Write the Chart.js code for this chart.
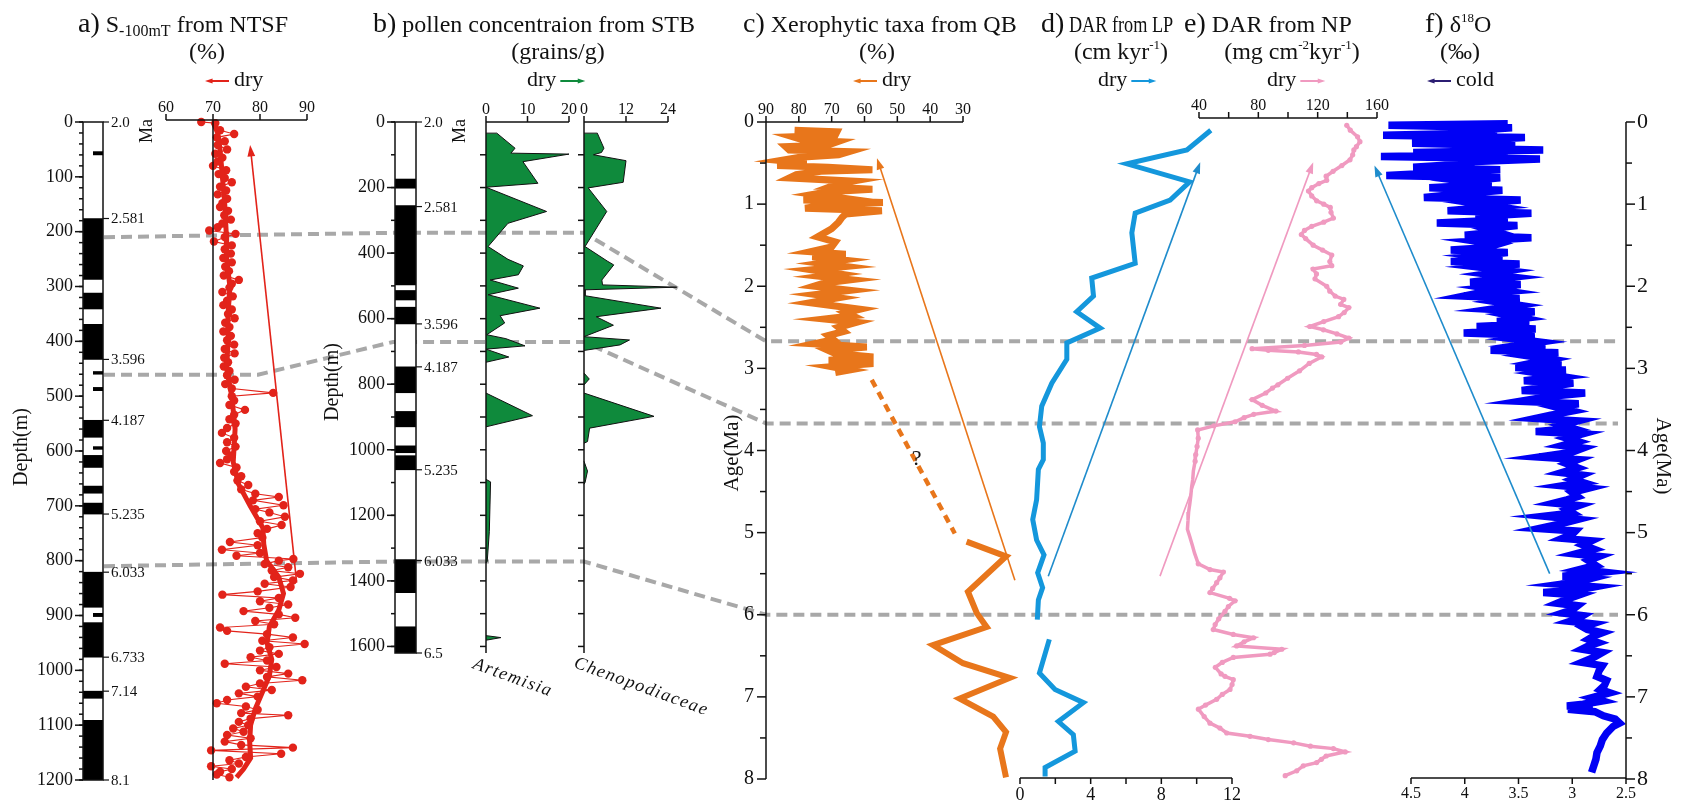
<!DOCTYPE html>
<html>
<head>
<meta charset="utf-8">
<script src="https://cdn.jsdelivr.net/npm/chart.js@4.4.1/dist/chart.umd.min.js"></script>
<style>
  html, body { margin: 0; padding: 0; background: #fff; }
  #wrap { position: relative; width: 1683px; height: 803px; overflow: hidden; }
  #wrap canvas { position: absolute; left: 0; top: 0; }
</style>
</head>
<body>
<div id="wrap"><canvas id="bg" width="1683" height="803"></canvas></div>
<script>
/*
  Data
  ---------- ---------- ---------- ---------- ----------
*/

// a) S-100mT from NTSF, depth (m) vs %
const A_RAW_DEPTH = [
  0, 2, 15, 22, 28, 35, 42, 50, 58, 65,
  72, 80, 88, 95, 102, 110, 118, 125, 132, 140,
  148, 155, 162, 170, 178, 185, 192, 198, 204, 210,
  218, 225, 232, 240, 248, 256, 264, 272, 280, 288,
  295, 302, 310, 318, 326, 334, 342, 350, 358, 366,
  374, 382, 390, 398, 406, 414, 422, 430, 438, 446,
  454, 462, 470, 478, 486, 494, 500, 508, 516, 525,
  534, 542, 550, 558, 567, 576, 584, 592, 600, 608,
  615, 622, 630, 638, 646, 654, 662, 670, 678, 684,
  690, 699, 706, 712, 720, 728, 735, 742, 750, 758,
  766, 772, 780, 786, 791, 797, 800, 806, 812, 818,
  824, 830, 836, 842, 848, 856, 862, 868, 874, 880,
  886, 892, 898, 904, 910, 916, 922, 928, 934, 940,
  946, 952, 958, 964, 970, 976, 982, 988, 994, 1000,
  1006, 1012, 1018, 1024, 1030, 1036, 1042, 1048, 1054, 1060,
  1066, 1072, 1078, 1082, 1088, 1094, 1100, 1106, 1112, 1118,
  1124, 1130, 1136, 1141, 1146, 1152, 1158, 1164, 1170, 1175,
  1180, 1185, 1190, 1195
];
const A_RAW_S = [
  67.5, 70.5, 71.5, 74.5, 70.8, 72.5, 71, 73, 70.5, 72,
  71, 70, 72.8, 71.2, 72.5, 74, 71.5, 72.8, 71, 73,
  72, 71.5, 73.2, 72.4, 73.8, 72, 71, 69.2, 74.8, 72.5,
  70.2, 74, 72.5, 73.8, 72.2, 74, 72.6, 73.4, 72.3, 75.5,
  74, 73.5, 72, 74.2, 73, 72.2, 74, 73.2, 74.6, 72.6,
  73.5, 72.2, 73.8, 73, 74.5, 72.5, 74.6, 72.4, 73.2, 72.3,
  73.5, 73, 74.6, 72.6, 74, 82.8, 74, 74.5, 73.5, 76.8,
  74.5, 73.5, 74.8, 73, 71.9, 74.5, 73, 74.8, 72.8, 74,
  73, 71.5, 75, 74.5, 76, 75.2, 77.5, 76, 79, 84,
  78.5, 85, 79, 82, 85.3, 80, 84.6, 81.5, 79.5, 80.5,
  73.6, 79.5, 71.9, 80, 75, 87.1, 84, 81, 86, 82.5,
  88.5, 83, 87, 81, 86.5, 79.5, 72, 84, 80, 86,
  82, 76.5, 84, 87.5, 79, 83, 71.5, 73, 81.5, 87,
  80.5, 89.5, 82, 80, 84, 78, 81.5, 72.5, 83.5, 80,
  86, 81.5, 89, 80, 77, 82.5, 75.5, 79.5, 73, 70.8,
  77, 79.5, 76, 86, 78, 75.5, 77.5, 74.3, 76.5, 73,
  78, 72.5, 76, 87, 69.6, 84.5, 77, 73.5, 75.5, 69.6,
  74, 71.5, 70.8, 73.5
];
const A_TREND_DEPTH = [0, 20, 50, 100, 150, 200, 250, 300, 350, 400, 450, 500, 560, 620, 660, 700, 740, 770, 800, 830, 860, 890, 920, 950, 980, 1010, 1040, 1070, 1100, 1130, 1160, 1180, 1195];
const A_TREND_S = [70, 71, 71.5, 72, 72.5, 72.8, 72.9, 73.6, 73.2, 73.2, 72.9, 74, 74.7, 74.3, 75.4, 77.9, 80.6, 80.8, 81.4, 84, 85, 84, 82, 81.5, 82.5, 82, 80.5, 79, 78, 77.8, 78, 76.5, 75];
// normal-polarity (black) intervals, depth m; short half-width events separately
const A_NORMAL = [[176, 287], [312, 341], [369, 433], [544, 575], [608, 630], [664, 677], [695, 715], [821, 885], [913, 976], [1038, 1051], [1091, 1200]];
const A_EVENTS = [[54, 60], [455, 460], [484, 490], [592, 597], [896, 902]];
const A_AGE_DEPTH = [0, 176, 433, 544, 715, 821, 976, 1038, 1200];
const A_AGE_LABEL = ['2.0', '2.581', '3.596', '4.187', '5.235', '6.033', '6.733', '7.14', '8.1'];
const A_DEPTH_LABELS = [0, 100, 200, 300, 400, 500, 600, 700, 800, 900, 1000, 1100, 1200];
const A_X_TICKS = [60, 70, 80, 90];

// b) pollen concentration from STB, depth (m) vs grains/g (null = gap)
const B_NORMAL = [[174, 202], [255, 497], [514, 543], [565, 616], [747, 826], [883, 930], [988, 1009], [1018, 1061], [1335, 1436], [1540, 1620]];
const B_AGE_DEPTH = [0, 258, 616, 747, 1061, 1338, 1620];
const B_AGE_LABEL = ['2.0', '2.581', '3.596', '4.187', '5.235', '6.033', '6.5'];
const B_DEPTH_LABELS = [0, 200, 400, 600, 800, 1000, 1200, 1400, 1600];
const ART_DEPTH = [34, 34, 80, 95, 98, 121, 187, 199, 273, 309, 380, 419, 439, 466, 482, 507, 527, 568, 591, 613, 649, 661, 683, 693, 717, 733, null, 827, 896, 930, null, 1090, 1098, 1250, 1340, 1345, null, 1567, 1573, 1581];
const ART_VALUE = [0, 2.6, 7, 6, 20, 8.9, 12.5, 0, 14.6, 5.3, 0.5, 5.3, 9, 7.8, 1, 7.8, 0.5, 13, 3.4, 4.5, 0.2, 4.8, 9.4, 0, 5.5, 0, null, 0, 11.2, 0, null, 0, 1.1, 0.8, 0.3, 0, null, 0, 3.6, 0];
const CHENO_DEPTH = [34, 34, 80, 93, 100, 118, 184, 201, 273, 380, 424, 436, 482, 497, 504, 512, 530, 568, 594, 620, 655, 665, 680, 697, null, 766, 784, 802, null, 827, 898, 934, 975, 980, null, 1035, 1065, 1100, 1105];
const CHENO_VALUE = [0, 3.8, 5.7, 5, 2.7, 12, 11.2, 1.2, 6.5, 0.3, 6.6, 8.5, 5.1, 5.3, 26.5, 0.3, 0.3, 22, 3.5, 8.4, 0, 13, 10.3, 0, null, 0, 1.5, 0, null, 0, 20, 1.6, 1, 0, null, 0, 1, 0.3, 0];
const ART_TICKS = [0, 10, 20];
const CHENO_TICKS = [0, 12, 24];

// c) Xerophytic taxa from QB, age (Ma) vs %
const XERO_AGE = [
  0.10, 0.12, 0.16, 0.18, 0.22, 0.24, 0.28, 0.30, 0.34, 0.36,
  0.40, 0.43, 0.47, 0.50, 0.53, 0.55, 0.58, 0.60, 0.64, 0.68,
  0.72, 0.75, 0.79, 0.82, 0.85, 0.88, 0.92, 0.95, 0.98, 1.02,
  1.05, 1.08, 1.12, 1.16, 1.22, 1.30, 1.40, 1.46, 1.52, 1.58,
  1.61, 1.64, 1.68, 1.72, 1.76, 1.80, 1.85, 1.88, 1.92, 1.96,
  2.00, 2.05, 2.10, 2.14, 2.20, 2.24, 2.28, 2.32, 2.36, 2.40,
  2.44, 2.50, 2.55, 2.60, 2.65, 2.70, 2.74, 2.78, 2.82, 2.86,
  2.90, 2.94, 2.98, 3.02, 3.05
];
const XERO_PCT = [
  81.3, 68.4, 68.9, 81.9, 78.6, 68.2, 71.1, 84.0, 82.9, 64.6,
  67.9, 79.7, 85.6, 77.6, 86.6, 71.1, 57.6, 73.3, 80.8, 82.9,
  63.6, 67.9, 70.6, 57.6, 71.1, 75.4, 67.9, 78.6, 54.4, 73.3,
  78.1, 54.7, 65.7, 66.8, 67.9, 70.0, 74.3, 68.9, 70.0, 76.5,
  65.7, 75.9, 66.5, 73.3, 65.7, 76.1, 67.9, 73.3, 64.1, 72.2,
  75.4, 64.4, 74.9, 67.9, 76.5, 68.9, 61.4, 65.7, 63.6, 72.2,
  62.5, 67.9, 66.3, 71.1, 69.5, 75.4, 59.3, 71.1, 68.9, 57.3,
  70.9, 57.3, 70.0, 64.6, 68.9
];
const XERO_GAP_AGE = [3.14, 5.01];
const XERO_GAP_PCT = [57.8, 32.5];
const XERO_LOW_AGE = [5.11, 5.29, 5.72, 5.98, 6.15, 6.37, 6.59, 6.77, 7.02, 7.24, 7.43, 7.63, 7.98];
const XERO_LOW_PCT = [28.9, 16.9, 28.5, 25.8, 22.8, 39.1, 30.0, 15.8, 31.0, 20.8, 16.9, 18.7, 16.9];
const C_X_TICKS = [90, 80, 70, 60, 50, 40, 30];

// d) DAR from LP, age (Ma) vs cm/kyr (null = gap)
const LP_AGE = [0.1, 0.34, 0.51, 0.73, 0.95, 1.11, 1.35, 1.72, 1.9, 2.12, 2.31, 2.51, 2.69, 2.89, 3.18, 3.46, 3.71, 3.91, 4.11, 4.23, 4.6, 4.84, 5.09, 5.27, 5.49, 5.67, 5.82, 6.06, null, 6.3, 6.71, 6.91, 7.07, 7.3, 7.46, 7.66, 7.86, 7.97];
const LP_DAR = [10.8, 9.45, 6.05, 9.6, 8.5, 6.52, 6.33, 6.52, 4.06, 4.16, 3.21, 4.54, 2.65, 2.65, 1.8, 1.23, 1.1, 1.32, 1.32, 1.04, 0.94, 0.72, 0.94, 1.36, 1.0, 1.28, 1.04, 0.98, null, 1.66, 1.1, 1.98, 3.59, 2.17, 3.02, 3.12, 1.42, 1.42];
const D_X_TICKS = [0, 2, 4, 6, 8, 10, 12];
const D_X_LABELS = [0, 4, 8, 12];

// e) DAR from NP, age (Ma) vs mg cm-2 kyr-1
const NP_AGE = [
  0.04, 0.10, 0.18, 0.24, 0.30, 0.34, 0.40, 0.46, 0.53, 0.60,
  0.66, 0.71, 0.75, 0.80, 0.84, 0.90, 0.96, 1.00, 1.04, 1.10,
  1.17, 1.22, 1.27, 1.32, 1.37, 1.42, 1.50, 1.56, 1.62, 1.70,
  1.75, 1.79, 1.85, 1.91, 2.00, 2.06, 2.12, 2.16, 2.22, 2.26,
  2.32, 2.37, 2.43, 2.49, 2.53, 2.58, 2.63, 2.68, 2.72, 2.76,
  2.78, 2.80, 2.83, 2.86, 2.94, 3.03, 3.12, 3.20, 3.24, 3.30,
  3.38, 3.45, 3.52, 3.56, 3.60, 3.65, 3.70, 3.75, 3.85, 3.95,
  4.05, 4.13, 4.25, 4.35, 4.45, 4.55, 4.65, 4.75, 4.85, 4.96,
  5.05, 5.16, 5.25, 5.38, 5.45, 5.48, 5.55, 5.61, 5.68, 5.73,
  5.80, 5.83, 5.90, 5.96, 6.05, 6.12, 6.18, 6.24, 6.28, 6.33,
  6.38, 6.42, 6.46, 6.48, 6.52, 6.58, 6.64, 6.72, 6.75, 6.79,
  6.85, 6.91, 6.97, 7.03, 7.10, 7.15, 7.24, 7.32, 7.38, 7.44,
  7.48, 7.52, 7.56, 7.60, 7.63, 7.67, 7.72, 7.76, 7.80, 7.84,
  7.90, 7.96
];
const NP_DAR = [
  139.6, 142.0, 146.9, 148.5, 146.1, 144.4, 143.6, 141.8, 136.3, 130.4,
  125.7, 126.1, 120.8, 116.0, 113.8, 116.0, 119.3, 124.1, 128.5, 129.0,
  130.6, 124.1, 116.0, 111.1, 109.0, 111.9, 117.0, 123.3, 129.5, 128.2,
  129.5, 116.9, 119.2, 118.2, 126.1, 128.2, 131.8, 137.6, 135.5, 141.0,
  137.9, 134.1, 124.1, 114.7, 123.9, 133.0, 141.0, 135.5, 111.1, 75.8,
  86.7, 107.0, 119.2, 122.7, 114.3, 107.8, 99.7, 93.2, 89.5, 85.0,
  75.8, 82.6, 91.8, 76.9, 70.4, 64.3, 50.0, 39.1, 39.5, 38.7,
  37.8, 37.4, 36.2, 35.8, 35.0, 34.5, 33.8, 33.0, 32.6, 32.2,
  33.8, 35.6, 37.0, 39.5, 47.4, 56.4, 54.1, 51.9, 49.2, 47.4,
  60.6, 64.3, 59.8, 57.5, 53.3, 50.9, 49.6, 63.1, 76.7, 70.4,
  65.4, 95.8, 90.7, 87.9, 63.1, 55.7, 51.0, 54.9, 57.5, 63.1,
  62.3, 60.9, 55.7, 51.9, 44.4, 39.6, 43.5, 47.4, 54.1, 58.7,
  74.4, 86.7, 103.8, 115.1, 130.6, 138.5, 125.7, 122.5, 119.3, 110.3,
  105.9, 98.1
];
const E_X_TICKS = [40, 60, 80, 100, 120, 140, 160];
const E_X_LABELS = [40, 80, 120, 160];

// f) benthic d18O stack, age (Ma) vs per mil
const D18O_AGE = [
  0.02, 0.04, 0.07, 0.10, 0.13, 0.16, 0.19, 0.22, 0.26, 0.29,
  0.32, 0.34, 0.37, 0.40, 0.42, 0.45, 0.48, 0.51, 0.55, 0.58,
  0.61, 0.65, 0.68, 0.72, 0.76, 0.80, 0.83, 0.87, 0.92, 0.95,
  0.99, 1.03, 1.08, 1.11, 1.15, 1.19, 1.23, 1.26, 1.30, 1.34,
  1.38, 1.41, 1.45, 1.49, 1.53, 1.56, 1.59, 1.63, 1.67, 1.70,
  1.73, 1.77, 1.81, 1.85, 1.89, 1.95, 1.98, 2.02, 2.06, 2.09,
  2.12, 2.15, 2.19, 2.23, 2.28, 2.31, 2.35, 2.39, 2.43, 2.46,
  2.49, 2.52, 2.57, 2.60, 2.64, 2.68, 2.72, 2.75, 2.78, 2.81,
  2.85, 2.89, 2.93, 2.96, 2.99, 3.02, 3.06, 3.10, 3.15, 3.18,
  3.22, 3.27, 3.30, 3.34, 3.40, 3.43, 3.47, 3.52, 3.57, 3.61,
  3.64, 3.69, 3.73, 3.77, 3.80, 3.85, 3.89, 3.94, 3.97, 4.02,
  4.08, 4.11, 4.16, 4.21, 4.27, 4.30, 4.35, 4.39, 4.43, 4.46,
  4.51, 4.56, 4.60, 4.64, 4.67, 4.72, 4.76, 4.80, 4.84, 4.89,
  4.95, 4.98, 5.02, 5.07, 5.10, 5.15, 5.20, 5.26, 5.29, 5.34,
  5.40, 5.45, 5.48, 5.53, 5.56, 5.60, 5.63, 5.66, 5.70, 5.73,
  5.76, 5.81, 5.86, 5.89, 5.94, 5.98, 6.01, 6.05, 6.08, 6.11,
  6.15, 6.18, 6.22, 6.26, 6.30, 6.34, 6.38, 6.42, 6.46, 6.52,
  6.58, 6.62, 6.68, 6.75, 6.80, 6.86, 6.91, 6.95, 7.01, 7.05,
  7.09, 7.11, 7.13, 7.15, 7.18, 7.23, 7.27, 7.32, 7.36, 7.44,
  7.52, 7.60, 7.68, 7.76, 7.84, 7.92
];
const D18O_VAL = [
  3.6, 4.71, 3.56, 3.9, 3.7, 4.76, 3.44, 3.9, 4.49, 3.53,
  4.1, 3.27, 4.48, 3.6, 4.78, 3.3, 3.9, 4.0, 4.48, 3.67,
  4.1, 4.73, 3.67, 4.0, 3.75, 4.33, 3.65, 4.0, 4.38, 3.48,
  3.9, 3.7, 4.16, 3.38, 3.9, 3.6, 4.26, 3.51, 3.8, 3.7,
  4.0, 3.38, 3.9, 3.7, 3.8, 4.13, 3.6, 3.9, 3.65, 4.13,
  3.49, 3.85, 3.6, 3.8, 3.55, 3.95, 3.48, 3.8, 3.6, 3.9,
  4.01, 3.49, 3.7, 3.5, 3.76, 3.35, 3.6, 3.45, 3.7, 3.4,
  3.89, 3.34, 4.01, 3.35, 3.55, 3.3, 3.5, 3.25, 3.76, 3.13,
  3.4, 3.2, 3.35, 3.1, 3.53, 3.06, 3.3, 3.1, 3.45, 2.99,
  3.2, 3.47, 2.88, 3.2, 3.48, 2.94, 3.15, 3.0, 3.2, 3.34,
  2.95, 3.1, 3.0, 3.34, 2.91, 3.05, 2.95, 3.09, 2.9, 3.0,
  3.31, 2.95, 3.05, 2.95, 3.1, 2.91, 3.0, 2.9, 3.09, 2.85,
  3.0, 2.95, 3.05, 3.17, 2.94, 3.05, 3.0, 3.26, 2.95, 3.1,
  3.31, 2.97, 3.0, 3.09, 2.82, 2.9, 2.8, 2.97, 2.75, 2.85,
  2.78, 2.93, 2.72, 3.09, 2.83, 2.95, 3.11, 2.79, 2.95, 3.27,
  2.94, 3.05, 3.14, 2.95, 3.0, 3.09, 2.9, 2.95, 3.02, 2.81,
  2.9, 2.86, 2.72, 2.8, 2.85, 2.76, 2.85, 2.91, 2.72, 2.8,
  2.91, 2.72, 2.75, 2.77, 2.68, 2.7, 2.74, 2.65, 2.82, 2.72,
  2.9, 3.05, 2.81, 3.04, 2.79, 2.71, 2.6, 2.56, 2.62, 2.68,
  2.72, 2.74, 2.77, 2.78, 2.8, 2.82
];
const F_X_TICKS = [4.5, 4, 3.5, 3, 2.5];
const AGE_TICKS = [0, 1, 2, 3, 4, 5, 6, 7, 8];

// tie points for the grey correlation lines
const TIE_DEPTH_A = [210, 461, 810];
const TIE_DEPTH_B = [338, 671, 1341];
const TIE_AGE = [2.67, 3.67, 6.0];

/*
  Config
  ---------- ---------- ---------- ---------- ----------
*/

const W = 1683, H = 803;
const SERIF = '"Liberation Serif", "Times New Roman", serif';
const RED = '#e2231a', GREEN = '#0f8a3c', ORANGE = '#e8761b', LPBLUE = '#1497dc';
const PINK = '#f09ac0', OBLUE = '#0000f5', NAVY = '#2b1d72', ARROWBLUE = '#1f8ccc', GREY = '#a8a8a8';
const wrap = document.getElementById('wrap');

/*
  Helpers
  ---------- ---------- ---------- ---------- ----------
*/

// split index/value arrays into {x: value, y: index} runs at nulls
function toSegments(idx, val) {
  const segs = [];
  let cur = [];
  idx.forEach((d, i) => {
    if (d === null || val[i] === null) {
      if (cur.length) segs.push(cur);
      cur = [];
    } else {
      cur.push({x: val[i], y: d});
    }
  });
  if (cur.length) segs.push(cur);
  return segs;
}

function lin(min, max, reverse) {
  return {type: 'linear', display: false, min: min, max: max, reverse: !!reverse};
}

// every chart gets a full-size canvas; padding puts its plot area where it belongs
function makeChart(area, type, datasets, scales, hooks, labels) {
  const cv = document.createElement('canvas');
  cv.width = W;
  cv.height = H;
  wrap.appendChild(cv);
  return new Chart(cv, {
    type: type,
    data: {labels: labels || [], datasets: datasets},
    options: {
      responsive: false,
      animation: false,
      events: [],
      indexAxis: type === 'line' ? 'y' : 'x',
      layout: {padding: {left: area[0], right: W - area[1], top: area[2], bottom: H - area[3]}},
      scales: scales,
      plugins: {legend: {display: false}, tooltip: {enabled: false}, title: {display: false}},
      elements: {point: {radius: 0}, line: {tension: 0}}
    },
    plugins: [Object.assign({id: 'deco'}, hooks || {})]
  });
}

function seg(ctx, x0, y0, x1, y1, w, color) {
  ctx.save();
  ctx.strokeStyle = color || '#111';
  ctx.lineWidth = w || 1.5;
  ctx.beginPath();
  ctx.moveTo(x0, y0);
  ctx.lineTo(x1, y1);
  ctx.stroke();
  ctx.restore();
}

function label(ctx, s, x, y, size, align, base, opt) {
  opt = opt || {};
  ctx.save();
  ctx.font = (opt.italic ? 'italic ' : '') + size + 'px ' + SERIF;
  ctx.fillStyle = '#111';
  ctx.textAlign = align || 'center';
  ctx.textBaseline = base || 'middle';
  if (opt.spacing) ctx.letterSpacing = opt.spacing;
  ctx.translate(x, y);
  if (opt.rot) ctx.rotate(opt.rot);
  ctx.fillText(s, 0, 0);
  ctx.restore();
}

function arrow(ctx, x0, y0, x1, y1, color, w, head) {
  const a = Math.atan2(y1 - y0, x1 - x0);
  const h = head || 10;
  ctx.save();
  ctx.strokeStyle = color;
  ctx.fillStyle = color;
  ctx.lineWidth = w;
  ctx.beginPath();
  ctx.moveTo(x0, y0);
  ctx.lineTo(x1 - Math.cos(a) * h * 0.7, y1 - Math.sin(a) * h * 0.7);
  ctx.stroke();
  ctx.beginPath();
  ctx.moveTo(x1, y1);
  ctx.lineTo(x1 - h * Math.cos(a - 0.33), y1 - h * Math.sin(a - 0.33));
  ctx.lineTo(x1 - h * Math.cos(a + 0.33), y1 - h * Math.sin(a + 0.33));
  ctx.closePath();
  ctx.fill();
  ctx.restore();
}

// text made of runs: [text, size, dy, squeeze]
function runs(ctx, x, y, parts, align) {
  ctx.save();
  ctx.fillStyle = '#111';
  ctx.textAlign = 'left';
  ctx.textBaseline = 'alphabetic';
  const width = p => { ctx.font = p[1] + 'px ' + SERIF; return ctx.measureText(p[0]).width * (p[3] || 1); };
  let total = 0;
  parts.forEach(p => { total += width(p); });
  let cx = align === 'center' ? x - total / 2 : x;
  parts.forEach(p => {
    const w = width(p);
    ctx.save();
    ctx.translate(cx, y + (p[2] || 0));
    ctx.scale(p[3] || 1, 1);
    ctx.fillText(p[0], 0, 0);
    ctx.restore();
    cx += w;
  });
  ctx.restore();
}

function header(ctx, h) {
  runs(ctx, h.x, 32, h.title);
  runs(ctx, h.ux, 59, h.unit, 'center');
  const word = h.word || 'dry';
  ctx.save();
  ctx.font = '22px ' + SERIF;
  const tw = ctx.measureText(word).width;
  ctx.restore();
  if (h.left) {
    arrow(ctx, h.dx + 24, 81, h.dx, 81, h.color, 2, 8);
    label(ctx, word, h.dx + 29, 86, 22, 'left', 'alphabetic');
  } else {
    label(ctx, word, h.dx, 86, 22, 'left', 'alphabetic');
    arrow(ctx, h.dx + tw + 4, 81, h.dx + tw + 29, 81, h.color, 2, 8);
  }
}

// horizontal axis drawn with the chart's x scale; dir -1 = ticks up
function hAxis(chart, y, ticks, labels, dir, size) {
  const ctx = chart.ctx, sc = chart.scales.x;
  const px = v => sc.getPixelForValue(v);
  seg(ctx, px(ticks[0]), y, px(ticks[ticks.length - 1]), y);
  ticks.forEach(v => seg(ctx, px(v), y, px(v), y + dir * 6));
  labels.forEach(v => label(ctx, String(v), px(v), dir < 0 ? y - 8 : y + 8, size, 'center', dir < 0 ? 'alphabetic' : 'top'));
}

// age axis (0-8 Ma) on one side of an age panel
function ageAxis(chart, x, side) {
  const ctx = chart.ctx, sc = chart.scales.y;
  const py = v => sc.getPixelForValue(v);
  seg(ctx, x, py(0), x, py(8));
  AGE_TICKS.forEach((v, i) => {
    seg(ctx, x, py(v), x + side * 9, py(v));
    if (i < AGE_TICKS.length - 1) seg(ctx, x, py(v + 0.5), x + side * 6, py(v + 0.5));
    label(ctx, String(v), side < 0 ? x - 12 : x + 11, py(v), side < 0 ? 20 : 22, side < 0 ? 'right' : 'left');
  });
}

// magnetostratigraphic column frame + depth axis + age marks
function columnFrame(chart, fill) {
  const ctx = chart.ctx, a = chart.chartArea;
  ctx.save();
  if (fill) {
    ctx.fillStyle = '#fff';
    ctx.fillRect(a.left, a.top, a.right - a.left, a.bottom - a.top);
  } else {
    ctx.strokeStyle = '#111';
    ctx.lineWidth = 1.5;
    ctx.strokeRect(a.left, a.top, a.right - a.left, a.bottom - a.top);
  }
  ctx.restore();
}

function depthAxis(chart, labels, step, titleX, titleY) {
  const ctx = chart.ctx, a = chart.chartArea, sc = chart.scales.y;
  const last = labels[labels.length - 1];
  for (let d = 0; d <= last; d += step) {
    const y = sc.getPixelForValue(d);
    seg(ctx, a.left - 4, y, a.left, y);
  }
  labels.forEach(d => {
    const y = sc.getPixelForValue(d);
    seg(ctx, a.left - 8, y, a.left, y);
    label(ctx, String(d), a.left - 10, y, 18, 'right');
  });
  label(ctx, 'Depth(m)', titleX, titleY, 20, 'center', 'middle', {rot: -Math.PI / 2});
}

function ageMarks(chart, depths, names, maX) {
  const ctx = chart.ctx, a = chart.chartArea, sc = chart.scales.y;
  depths.forEach((d, i) => {
    const y = sc.getPixelForValue(d);
    seg(ctx, a.right, y, a.right + 6, y, 1.2);
    label(ctx, names[i], a.right + 8, y + 1, 15, 'left');
  });
  label(ctx, 'Ma', maX, 131, 18, 'center', 'middle', {rot: -Math.PI / 2});
}

// pollen taxon axis (vertical baseline + top value axis)
function pollenAxis(chart, ticks, name, nx, ny) {
  const ctx = chart.ctx, sx = chart.scales.x, sy = chart.scales.y;
  const x = sx.getPixelForValue(0);
  seg(ctx, x, 122, x, 653);
  for (let d = 100; d <= 1600; d += 100) {
    const y = sy.getPixelForValue(d);
    seg(ctx, x - 6, y, x, y);
  }
  hAxis(chart, 122, ticks, ticks, -1, 16);
  label(ctx, name, nx, ny, 18, 'left', 'alphabetic', {italic: true, rot: 0.35, spacing: '1.5px'});
}

function columnBars(intervals) {
  return intervals.map(iv => ({
    data: [iv], backgroundColor: '#000', borderWidth: 0,
    barPercentage: 1, categoryPercentage: 1, grouped: false
  }));
}

function fillSegments(idx, val) {
  return toSegments(idx, val).map(s => ({
    data: s, borderColor: '#111', borderWidth: 1, backgroundColor: GREEN, fill: 'origin', clip: false
  }));
}

/*
  Panel a
  ---------- ---------- ---------- ---------- ----------
*/

const colA = makeChart([83, 103, 122, 780], 'bar', columnBars(A_NORMAL),
  {x: {type: 'category', display: false, offset: true}, y: lin(0, 1200, true)},
  {
    beforeDatasetsDraw: c => columnFrame(c, true),
    afterDraw: c => {
      columnFrame(c, false);
      depthAxis(c, A_DEPTH_LABELS, 20, 22, 447);
      ageMarks(c, A_AGE_DEPTH, A_AGE_LABEL, 147);
    }
  }, ['n']);

// short polarity events: right half of the column only
const colAEvents = makeChart([93, 103, 122, 780], 'bar', columnBars(A_EVENTS),
  {x: {type: 'category', display: false, offset: true}, y: lin(0, 1200, true)}, null, ['n']);

const chartA = makeChart([166, 307, 122, 780], 'line', [
  {data: toSegments(A_TREND_DEPTH, A_TREND_S)[0], borderColor: RED, borderWidth: 5, pointRadius: 0, clip: false},
  {data: toSegments(A_RAW_DEPTH, A_RAW_S)[0], borderColor: RED, borderWidth: 1.1, pointRadius: 4.2,
    pointBackgroundColor: RED, pointBorderWidth: 0, clip: false}
], {x: lin(60, 90), y: lin(0, 1200, true)}, {
  afterDraw: c => {
    const ctx = c.ctx, sx = c.scales.x, sy = c.scales.y;
    hAxis(c, 120, A_X_TICKS, A_X_TICKS, -1, 16);
    seg(ctx, sx.getPixelForValue(70), 120, sx.getPixelForValue(70), 780);
    arrow(ctx, sx.getPixelForValue(87.8), sy.getPixelForValue(840), sx.getPixelForValue(77.9), sy.getPixelForValue(42), RED, 1.6, 12);
    header(ctx, {x: 78, title: [['a)', 28], [' S', 24], ['-100mT', 16, 4], [' from NTSF', 24]],
      ux: 207, unit: [['(%)', 24]], dx: 205, left: true, color: RED});
  }
});

/*
  Panel b
  ---------- ---------- ---------- ---------- ----------
*/

const colB = makeChart([395, 416, 122, 653], 'bar', columnBars(B_NORMAL),
  {x: {type: 'category', display: false, offset: true}, y: lin(0, 1620, true)},
  {
    beforeDatasetsDraw: c => columnFrame(c, true),
    afterDraw: c => {
      columnFrame(c, false);
      depthAxis(c, B_DEPTH_LABELS, 100, 333, 382);
      ageMarks(c, B_AGE_DEPTH, B_AGE_LABEL, 460);
    }
  }, ['n']);

const chartB1 = makeChart([486, 569, 122, 653], 'line', fillSegments(ART_DEPTH, ART_VALUE),
  {x: lin(0, 20), y: lin(0, 1620, true)}, {
    afterDraw: c => {
      pollenAxis(c, ART_TICKS, 'Artemisia', 472, 668);
      header(c.ctx, {x: 373, title: [['b)', 28], [' pollen concentraion from STB', 24]],
        ux: 558, unit: [['(grains/g)', 24]], dx: 527, color: GREEN});
    }
  });

const chartB2 = makeChart([584, 678.5, 122, 653], 'line', fillSegments(CHENO_DEPTH, CHENO_VALUE),
  {x: lin(0, 27), y: lin(0, 1620, true)}, {
    afterDraw: c => pollenAxis(c, CHENO_TICKS, 'Chenopodiaceae', 573, 667)
  });

/*
  Panel c
  ---------- ---------- ---------- ---------- ----------
*/

const chartC = makeChart([766, 963, 122, 779], 'line', [
  {data: toSegments(XERO_AGE, XERO_PCT)[0], borderColor: ORANGE, borderWidth: 7, clip: false},
  {data: toSegments(XERO_GAP_AGE, XERO_GAP_PCT)[0], borderColor: ORANGE, borderWidth: 4.5, borderDash: [8, 6], clip: false},
  {data: toSegments(XERO_LOW_AGE, XERO_LOW_PCT)[0], borderColor: ORANGE, borderWidth: 6, clip: false}
], {x: lin(30, 90, true), y: lin(0, 8, true)}, {
  afterDraw: c => {
    const ctx = c.ctx, sx = c.scales.x, sy = c.scales.y;
    hAxis(c, 122, C_X_TICKS, C_X_TICKS, -1, 16);
    ageAxis(c, sx.getPixelForValue(90), -1);
    label(ctx, 'Age(Ma)', 732, 453, 21, 'center', 'middle', {rot: -Math.PI / 2});
    arrow(ctx, sx.getPixelForValue(14.2), sy.getPixelForValue(5.58), sx.getPixelForValue(56.2), sy.getPixelForValue(0.44), ORANGE, 1.6, 12);
    label(ctx, '?', sx.getPixelForValue(44.1), sy.getPixelForValue(4.11), 22);
    header(ctx, {x: 743, title: [['c)', 28], [' Xerophytic taxa from QB', 24]],
      ux: 877, unit: [['(%)', 24]], dx: 853, left: true, color: ORANGE});
  }
});

/*
  Panel d
  ---------- ---------- ---------- ---------- ----------
*/

const chartD = makeChart([1020, 1232, 122, 779], 'line',
  toSegments(LP_AGE, LP_DAR).map(s => ({data: s, borderColor: LPBLUE, borderWidth: 5, clip: false})),
  {x: lin(0, 12), y: lin(0, 8, true)}, {
    afterDraw: c => {
      const ctx = c.ctx, sx = c.scales.x, sy = c.scales.y;
      hAxis(c, 778, D_X_TICKS, D_X_LABELS, 1, 18);
      arrow(ctx, sx.getPixelForValue(1.6), sy.getPixelForValue(5.53), sx.getPixelForValue(10.2), sy.getPixelForValue(0.49), ARROWBLUE, 1.6, 12);
      header(ctx, {x: 1041, title: [['d)', 28], [' DAR from LP', 24, 0, 0.76]],
        ux: 1121, unit: [['(cm kyr', 24], ['-1', 13, -10], [')', 24]], dx: 1098, color: LPBLUE});
    }
  });

/*
  Panel e
  ---------- ---------- ---------- ---------- ----------
*/

const chartE = makeChart([1199, 1377, 122, 779], 'line', [
  {data: toSegments(NP_AGE, NP_DAR)[0], borderColor: PINK, borderWidth: 3.5, pointRadius: 2.6,
    pointBackgroundColor: PINK, pointBorderWidth: 0, clip: false}
], {x: lin(40, 160), y: lin(0, 8, true)}, {
  afterDraw: c => {
    const ctx = c.ctx, sx = c.scales.x, sy = c.scales.y;
    hAxis(c, 118, E_X_TICKS, E_X_LABELS, -1, 16);
    arrow(ctx, sx.getPixelForValue(13.7), sy.getPixelForValue(5.53), sx.getPixelForValue(117), sy.getPixelForValue(0.49), PINK, 1.6, 12);
    header(ctx, {x: 1184, title: [['e)', 28], [' DAR from NP', 24]],
      ux: 1292, unit: [['(mg cm', 24], ['-2', 13, -10], ['kyr', 24], ['-1', 13, -10], [')', 24]], dx: 1267, color: PINK});
  }
});

/*
  Panel f
  ---------- ---------- ---------- ---------- ----------
*/

const chartF = makeChart([1411, 1626, 122, 779], 'line', [
  {data: toSegments(D18O_AGE, D18O_VAL)[0], borderColor: OBLUE, borderWidth: 7.5, clip: false}
], {x: lin(2.5, 4.5, true), y: lin(0, 8, true)}, {
  afterDraw: c => {
    const ctx = c.ctx, sx = c.scales.x, sy = c.scales.y;
    hAxis(c, 778, F_X_TICKS, F_X_TICKS, 1, 16);
    ageAxis(c, sx.getPixelForValue(2.5), 1);
    label(ctx, 'Age(Ma)', 1663, 456, 21, 'center', 'middle', {rot: Math.PI / 2});
    arrow(ctx, sx.getPixelForValue(3.21), sy.getPixelForValue(5.5), sx.getPixelForValue(4.84), sy.getPixelForValue(0.53), ARROWBLUE, 1.6, 12);
    header(ctx, {x: 1425, title: [['f)', 28], [' \u03B4', 24], ['18', 13, -10], ['O', 24]],
      ux: 1460, unit: [['(\u2030)', 24]], dx: 1427, left: true, color: NAVY, word: 'cold'});
  }
});

/*
  Correlation lines (background layer)
  ---------- ---------- ---------- ---------- ----------
*/

const bg = document.getElementById('bg').getContext('2d');
bg.fillStyle = '#fff';
bg.fillRect(0, 0, W, H);
bg.save();
bg.strokeStyle = GREY;
bg.lineWidth = 4;
bg.setLineDash([11, 6]);
const kinkX = [104, 258, 104];
TIE_DEPTH_A.forEach((da, i) => {
  const yA = chartA.scales.y.getPixelForValue(da);
  const yB = chartB1.scales.y.getPixelForValue(TIE_DEPTH_B[i]);
  const yC = chartC.scales.y.getPixelForValue(TIE_AGE[i]);
  const xC = chartC.scales.x.getPixelForValue(90);
  bg.beginPath();
  bg.moveTo(104, yA);
  bg.lineTo(kinkX[i], yA);
  bg.lineTo(393, yB);
  bg.lineTo(chartB2.scales.x.getPixelForValue(0), yB);
  bg.lineTo(xC, yC);
  bg.lineTo(1618, yC);
  bg.stroke();
});
bg.restore();
</script>
</body>
</html>
